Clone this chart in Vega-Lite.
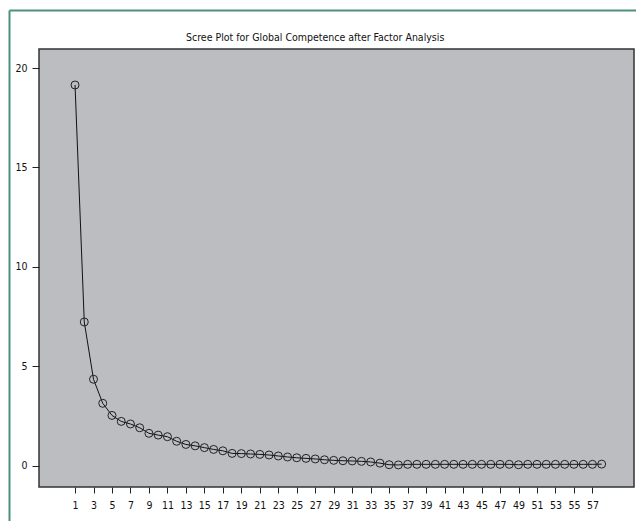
{
  "$schema": "https://vega.github.io/schema/vega-lite/v6.json",
  "width": 595,
  "height": 438,
  "autosize": {"type": "none"},
  "padding": {"left": 39, "top": 49, "right": 2, "bottom": 34},
  "background": "white",
  "config": {
    "view": {"fill": "#bcbdc1", "stroke": "#333333", "strokeWidth": 1.5},
    "font": "DejaVu Sans Condensed, sans-serif",
    "axis": {"labelFont": "DejaVu Sans Condensed, sans-serif", "labelFontSize": 10.5, "labelColor": "#111111", "grid": false, "title": null}
  },
  "title": {
    "text": "Scree Plot for Global Competence after Factor Analysis",
    "anchor": "start",
    "frame": "group",
    "dx": 147,
    "offset": -33,
    "fontSize": 10.5,
    "fontWeight": "normal",
    "color": "#111111",
    "font": "DejaVu Sans Condensed, sans-serif"
  },
  "data": {
    "values": [
      {"factor": 1, "eigenvalue": 19.15},
      {"factor": 2, "eigenvalue": 7.23},
      {"factor": 3, "eigenvalue": 4.35},
      {"factor": 4, "eigenvalue": 3.14},
      {"factor": 5, "eigenvalue": 2.53},
      {"factor": 6, "eigenvalue": 2.23},
      {"factor": 7, "eigenvalue": 2.1},
      {"factor": 8, "eigenvalue": 1.91},
      {"factor": 9, "eigenvalue": 1.63},
      {"factor": 10, "eigenvalue": 1.54},
      {"factor": 11, "eigenvalue": 1.46},
      {"factor": 12, "eigenvalue": 1.23},
      {"factor": 13, "eigenvalue": 1.07},
      {"factor": 14, "eigenvalue": 1.0},
      {"factor": 15, "eigenvalue": 0.91},
      {"factor": 16, "eigenvalue": 0.82},
      {"factor": 17, "eigenvalue": 0.75},
      {"factor": 18, "eigenvalue": 0.62},
      {"factor": 19, "eigenvalue": 0.61},
      {"factor": 20, "eigenvalue": 0.59},
      {"factor": 21, "eigenvalue": 0.57},
      {"factor": 22, "eigenvalue": 0.54},
      {"factor": 23, "eigenvalue": 0.49},
      {"factor": 24, "eigenvalue": 0.44},
      {"factor": 25, "eigenvalue": 0.4},
      {"factor": 26, "eigenvalue": 0.37},
      {"factor": 27, "eigenvalue": 0.34},
      {"factor": 28, "eigenvalue": 0.3},
      {"factor": 29, "eigenvalue": 0.27},
      {"factor": 30, "eigenvalue": 0.25},
      {"factor": 31, "eigenvalue": 0.24},
      {"factor": 32, "eigenvalue": 0.22},
      {"factor": 33, "eigenvalue": 0.19},
      {"factor": 34, "eigenvalue": 0.13},
      {"factor": 35, "eigenvalue": 0.05},
      {"factor": 36, "eigenvalue": 0.04},
      {"factor": 37, "eigenvalue": 0.07},
      {"factor": 38, "eigenvalue": 0.07},
      {"factor": 39, "eigenvalue": 0.07},
      {"factor": 40, "eigenvalue": 0.07},
      {"factor": 41, "eigenvalue": 0.07},
      {"factor": 42, "eigenvalue": 0.07},
      {"factor": 43, "eigenvalue": 0.07},
      {"factor": 44, "eigenvalue": 0.07},
      {"factor": 45, "eigenvalue": 0.07},
      {"factor": 46, "eigenvalue": 0.07},
      {"factor": 47, "eigenvalue": 0.07},
      {"factor": 48, "eigenvalue": 0.07},
      {"factor": 49, "eigenvalue": 0.05},
      {"factor": 50, "eigenvalue": 0.07},
      {"factor": 51, "eigenvalue": 0.07},
      {"factor": 52, "eigenvalue": 0.07},
      {"factor": 53, "eigenvalue": 0.07},
      {"factor": 54, "eigenvalue": 0.07},
      {"factor": 55, "eigenvalue": 0.07},
      {"factor": 56, "eigenvalue": 0.07},
      {"factor": 57, "eigenvalue": 0.07},
      {"factor": 58, "eigenvalue": 0.08}
    ]
  },
  "layer": [
    {
      "encoding": {
        "x": {
          "field": "factor", "type": "quantitative",
          "scale": {"domain": [-2.9, 61.5], "nice": false, "zero": false},
          "axis": {
            "orient": "bottom",
            "values": [1,3,5,7,9,11,13,15,17,19,21,23,25,27,29,31,33,35,37,39,41,43,45,47,49,51,53,55,57],
            "domain": false, "tickSize": 6, "tickColor": "#222222", "labelPadding": 7, "labelFlush": false, "labelOverlap": false, "labelBound": false
          }
        },
        "y": {
          "field": "eigenvalue", "type": "quantitative",
          "scale": {"domain": [-1.07, 20.96], "nice": false, "zero": false},
          "axis": {
            "orient": "left",
            "values": [0, 5, 10, 15, 20],
            "domain": false, "tickSize": 7, "tickColor": "#222222", "labelPadding": 5, "labelFlush": false
          }
        }
      },
      "layer": [
        {"mark": {"type": "line", "color": "#111111", "strokeWidth": 1}},
        {"mark": {"type": "point", "shape": "circle", "size": 64, "filled": false, "stroke": "#222222", "strokeWidth": 1, "opacity": 1}}
      ]
    },
    {
      "mark": {"type": "point", "opacity": 0},
      "encoding": {
        "x": {
          "field": "factor", "type": "quantitative",
          "scale": {"domain": [-2.9, 61.5], "nice": false, "zero": false, "range": [-30, 597]},
          "axis": {"orient": "top", "offset": 39, "domainColor": "#4d9080", "domainWidth": 2, "ticks": false, "labels": false, "title": null}
        },
        "y": {
          "field": "eigenvalue", "type": "quantitative",
          "scale": {"domain": [-1.07, 20.96], "nice": false, "zero": false, "range": [472, -39]},
          "axis": {"orient": "left", "offset": 30, "domainColor": "#4d9080", "domainWidth": 2, "ticks": false, "labels": false, "title": null}
        }
      }
    }
  ],
  "resolve": {
    "scale": {"x": "independent", "y": "independent"},
    "axis": {"x": "independent", "y": "independent"}
  }
}
